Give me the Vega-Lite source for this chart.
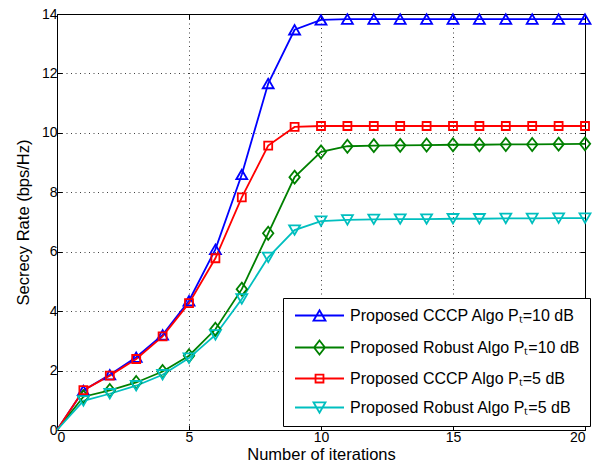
{
  "$schema": "https://vega.github.io/schema/vega-lite/v6.json",
  "width": 528,
  "height": 416,
  "autosize": {"type": "none"},
  "padding": {"left": 57, "top": 14, "right": 8, "bottom": 42},
  "background": "white",
  "datasets": {
    "rates": [
      {"series": "Proposed CCCP Algo Pₜ=10 dB", "x": 0, "y": 0},
      {"series": "Proposed CCCP Algo Pₜ=10 dB", "x": 1, "y": 1.33},
      {"series": "Proposed CCCP Algo Pₜ=10 dB", "x": 2, "y": 1.86},
      {"series": "Proposed CCCP Algo Pₜ=10 dB", "x": 3, "y": 2.45},
      {"series": "Proposed CCCP Algo Pₜ=10 dB", "x": 4, "y": 3.2},
      {"series": "Proposed CCCP Algo Pₜ=10 dB", "x": 5, "y": 4.35},
      {"series": "Proposed CCCP Algo Pₜ=10 dB", "x": 6, "y": 6.08},
      {"series": "Proposed CCCP Algo Pₜ=10 dB", "x": 7, "y": 8.6},
      {"series": "Proposed CCCP Algo Pₜ=10 dB", "x": 8, "y": 11.66},
      {"series": "Proposed CCCP Algo Pₜ=10 dB", "x": 9, "y": 13.47},
      {"series": "Proposed CCCP Algo Pₜ=10 dB", "x": 10, "y": 13.8},
      {"series": "Proposed CCCP Algo Pₜ=10 dB", "x": 11, "y": 13.83},
      {"series": "Proposed CCCP Algo Pₜ=10 dB", "x": 12, "y": 13.83},
      {"series": "Proposed CCCP Algo Pₜ=10 dB", "x": 13, "y": 13.83},
      {"series": "Proposed CCCP Algo Pₜ=10 dB", "x": 14, "y": 13.83},
      {"series": "Proposed CCCP Algo Pₜ=10 dB", "x": 15, "y": 13.83},
      {"series": "Proposed CCCP Algo Pₜ=10 dB", "x": 16, "y": 13.83},
      {"series": "Proposed CCCP Algo Pₜ=10 dB", "x": 17, "y": 13.83},
      {"series": "Proposed CCCP Algo Pₜ=10 dB", "x": 18, "y": 13.83},
      {"series": "Proposed CCCP Algo Pₜ=10 dB", "x": 19, "y": 13.83},
      {"series": "Proposed CCCP Algo Pₜ=10 dB", "x": 20, "y": 13.83},
      {"series": "Proposed Robust Algo Pₜ=10 dB", "x": 0, "y": 0},
      {"series": "Proposed Robust Algo Pₜ=10 dB", "x": 1, "y": 1.12},
      {"series": "Proposed Robust Algo Pₜ=10 dB", "x": 2, "y": 1.33},
      {"series": "Proposed Robust Algo Pₜ=10 dB", "x": 3, "y": 1.6},
      {"series": "Proposed Robust Algo Pₜ=10 dB", "x": 4, "y": 1.97},
      {"series": "Proposed Robust Algo Pₜ=10 dB", "x": 5, "y": 2.5},
      {"series": "Proposed Robust Algo Pₜ=10 dB", "x": 6, "y": 3.39},
      {"series": "Proposed Robust Algo Pₜ=10 dB", "x": 7, "y": 4.74},
      {"series": "Proposed Robust Algo Pₜ=10 dB", "x": 8, "y": 6.62},
      {"series": "Proposed Robust Algo Pₜ=10 dB", "x": 9, "y": 8.51},
      {"series": "Proposed Robust Algo Pₜ=10 dB", "x": 10, "y": 9.36},
      {"series": "Proposed Robust Algo Pₜ=10 dB", "x": 11, "y": 9.55},
      {"series": "Proposed Robust Algo Pₜ=10 dB", "x": 12, "y": 9.57},
      {"series": "Proposed Robust Algo Pₜ=10 dB", "x": 13, "y": 9.58},
      {"series": "Proposed Robust Algo Pₜ=10 dB", "x": 14, "y": 9.59},
      {"series": "Proposed Robust Algo Pₜ=10 dB", "x": 15, "y": 9.6},
      {"series": "Proposed Robust Algo Pₜ=10 dB", "x": 16, "y": 9.6},
      {"series": "Proposed Robust Algo Pₜ=10 dB", "x": 17, "y": 9.61},
      {"series": "Proposed Robust Algo Pₜ=10 dB", "x": 18, "y": 9.61},
      {"series": "Proposed Robust Algo Pₜ=10 dB", "x": 19, "y": 9.62},
      {"series": "Proposed Robust Algo Pₜ=10 dB", "x": 20, "y": 9.63},
      {"series": "Proposed CCCP Algo Pₜ=5 dB", "x": 0, "y": 0},
      {"series": "Proposed CCCP Algo Pₜ=5 dB", "x": 1, "y": 1.34},
      {"series": "Proposed CCCP Algo Pₜ=5 dB", "x": 2, "y": 1.83},
      {"series": "Proposed CCCP Algo Pₜ=5 dB", "x": 3, "y": 2.39},
      {"series": "Proposed CCCP Algo Pₜ=5 dB", "x": 4, "y": 3.15},
      {"series": "Proposed CCCP Algo Pₜ=5 dB", "x": 5, "y": 4.27},
      {"series": "Proposed CCCP Algo Pₜ=5 dB", "x": 6, "y": 5.78},
      {"series": "Proposed CCCP Algo Pₜ=5 dB", "x": 7, "y": 7.83},
      {"series": "Proposed CCCP Algo Pₜ=5 dB", "x": 8, "y": 9.57},
      {"series": "Proposed CCCP Algo Pₜ=5 dB", "x": 9, "y": 10.2},
      {"series": "Proposed CCCP Algo Pₜ=5 dB", "x": 10, "y": 10.23},
      {"series": "Proposed CCCP Algo Pₜ=5 dB", "x": 11, "y": 10.23},
      {"series": "Proposed CCCP Algo Pₜ=5 dB", "x": 12, "y": 10.23},
      {"series": "Proposed CCCP Algo Pₜ=5 dB", "x": 13, "y": 10.23},
      {"series": "Proposed CCCP Algo Pₜ=5 dB", "x": 14, "y": 10.23},
      {"series": "Proposed CCCP Algo Pₜ=5 dB", "x": 15, "y": 10.23},
      {"series": "Proposed CCCP Algo Pₜ=5 dB", "x": 16, "y": 10.23},
      {"series": "Proposed CCCP Algo Pₜ=5 dB", "x": 17, "y": 10.23},
      {"series": "Proposed CCCP Algo Pₜ=5 dB", "x": 18, "y": 10.23},
      {"series": "Proposed CCCP Algo Pₜ=5 dB", "x": 19, "y": 10.23},
      {"series": "Proposed CCCP Algo Pₜ=5 dB", "x": 20, "y": 10.23},
      {"series": "Proposed Robust Algo Pₜ=5 dB", "x": 0, "y": 0},
      {"series": "Proposed Robust Algo Pₜ=5 dB", "x": 1, "y": 0.98},
      {"series": "Proposed Robust Algo Pₜ=5 dB", "x": 2, "y": 1.22},
      {"series": "Proposed Robust Algo Pₜ=5 dB", "x": 3, "y": 1.49},
      {"series": "Proposed Robust Algo Pₜ=5 dB", "x": 4, "y": 1.86},
      {"series": "Proposed Robust Algo Pₜ=5 dB", "x": 5, "y": 2.42},
      {"series": "Proposed Robust Algo Pₜ=5 dB", "x": 6, "y": 3.2},
      {"series": "Proposed Robust Algo Pₜ=5 dB", "x": 7, "y": 4.41},
      {"series": "Proposed Robust Algo Pₜ=5 dB", "x": 8, "y": 5.81},
      {"series": "Proposed Robust Algo Pₜ=5 dB", "x": 9, "y": 6.73},
      {"series": "Proposed Robust Algo Pₜ=5 dB", "x": 10, "y": 7.03},
      {"series": "Proposed Robust Algo Pₜ=5 dB", "x": 11, "y": 7.07},
      {"series": "Proposed Robust Algo Pₜ=5 dB", "x": 12, "y": 7.09},
      {"series": "Proposed Robust Algo Pₜ=5 dB", "x": 13, "y": 7.1},
      {"series": "Proposed Robust Algo Pₜ=5 dB", "x": 14, "y": 7.1},
      {"series": "Proposed Robust Algo Pₜ=5 dB", "x": 15, "y": 7.11},
      {"series": "Proposed Robust Algo Pₜ=5 dB", "x": 16, "y": 7.11},
      {"series": "Proposed Robust Algo Pₜ=5 dB", "x": 17, "y": 7.12},
      {"series": "Proposed Robust Algo Pₜ=5 dB", "x": 18, "y": 7.12},
      {"series": "Proposed Robust Algo Pₜ=5 dB", "x": 19, "y": 7.13},
      {"series": "Proposed Robust Algo Pₜ=5 dB", "x": 20, "y": 7.13}
    ]
  },
  "data": {"name": "rates"},
  "resolve": {"axis": {"x": "independent", "y": "independent"}},
  "layer": [
    {
      "mark": {"type": "line", "strokeWidth": 1.8},
      "encoding": {
        "x": {
          "field": "x", "type": "quantitative",
          "scale": {"domain": [0, 20], "nice": false},
          "axis": {
            "title": "Number of iterations", "values": [0, 5, 10, 15, 20],
            "orient": "bottom", "grid": true, "tickSize": -5, "labelPadding": 5,
            "titlePadding": 2
          }
        },
        "y": {
          "field": "y", "type": "quantitative",
          "scale": {"domain": [0, 14], "nice": false},
          "axis": {
            "title": "Secrecy Rate (bps/Hz)", "values": [0, 2, 4, 6, 8, 10, 12, 14],
            "orient": "left", "grid": true, "tickSize": -5, "labelPadding": 5,
            "titlePadding": 10
          }
        },
        "color": {
          "field": "series", "type": "nominal",
          "scale": {
            "domain": ["Proposed CCCP Algo Pₜ=10 dB", "Proposed Robust Algo Pₜ=10 dB", "Proposed CCCP Algo Pₜ=5 dB", "Proposed Robust Algo Pₜ=5 dB"],
            "range": ["#0000ff", "#008000", "#ff0000", "#00bfbf"]
          },
          "legend": {
            "title": null,
            "orient": "none",
            "legendX": 226,
            "legendY": 284,
            "symbolSize": 225,
            "encode": {
              "symbols": {
                "update": {
                  "shape": {"signal": "datum.index === 0 ? 'M-0.733,0L5.8,0M2.533,-0.69L3.333,0.69L1.733,0.69Z' : datum.index === 1 ? 'M-0.733,0L5.8,0M2.533,-0.93L3.263,0L2.533,0.93L1.803,0Z' : datum.index === 2 ? 'M-0.733,0L5.8,0M2.003,-0.53L3.063,-0.53L3.063,0.53L2.003,0.53Z' : 'M-0.733,0L5.8,0M2.533,0.69L3.333,-0.69L1.733,-0.69Z'"},
                  "size": {"value": 225},
                  "fill": {"value": "transparent"}
                }
              }
            }
          }
        }
      }
    },
    {
      "transform": [{"filter": "datum.series === 'Proposed CCCP Algo Pₜ=10 dB'"}, {"filter": "datum.x > 0"}],
      "mark": {"type": "point", "filled": false, "strokeWidth": 1.8, "opacity": 1, "shape": "triangle-up", "size": 120, "color": "#0000ff"},
      "encoding": {
        "x": {
          "field": "x", "type": "quantitative",
          "axis": {"orient": "top", "values": [0, 5, 10, 15, 20], "labels": false, "title": null, "grid": false, "tickSize": -5}
        },
        "y": {
          "field": "y", "type": "quantitative",
          "axis": {"orient": "right", "values": [0, 2, 4, 6, 8, 10, 12, 14], "labels": false, "title": null, "grid": false, "tickSize": -5}
        }
      }
    },
    {
      "transform": [{"filter": "datum.series === 'Proposed Robust Algo Pₜ=10 dB'"}, {"filter": "datum.x > 0"}],
      "mark": {"type": "point", "filled": false, "strokeWidth": 1.8, "opacity": 1, "shape": "M0,-1L0.8,0L0,1L-0.8,0Z", "size": 169, "color": "#008000"},
      "encoding": {
        "x": {"field": "x", "type": "quantitative", "axis": null},
        "y": {"field": "y", "type": "quantitative", "axis": null}
      }
    },
    {
      "transform": [{"filter": "datum.series === 'Proposed CCCP Algo Pₜ=5 dB'"}, {"filter": "datum.x > 0"}],
      "mark": {"type": "point", "filled": false, "strokeWidth": 1.8, "opacity": 1, "shape": "square", "size": 64, "color": "#ff0000"},
      "encoding": {
        "x": {"field": "x", "type": "quantitative", "axis": null},
        "y": {"field": "y", "type": "quantitative", "axis": null}
      }
    },
    {
      "transform": [{"filter": "datum.series === 'Proposed Robust Algo Pₜ=5 dB'"}, {"filter": "datum.x > 0"}],
      "mark": {"type": "point", "filled": false, "strokeWidth": 1.8, "opacity": 1, "shape": "triangle-down", "size": 120, "color": "#00bfbf"},
      "encoding": {
        "x": {"field": "x", "type": "quantitative", "axis": null},
        "y": {"field": "y", "type": "quantitative", "axis": null}
      }
    }
  ],
  "config": {
    "font": "Liberation Sans",
    "view": {"stroke": "black", "strokeWidth": 1},
    "axis": {
      "domain": false,
      "ticks": true,
      "tickColor": "black",
      "tickWidth": 1,
      "gridColor": "black",
      "gridOpacity": 0.75,
      "gridDash": [1, 3.5],
      "gridWidth": 1,
      "labelFont": "Liberation Sans",
      "labelFontSize": 14,
      "labelColor": "black",
      "titleFont": "Liberation Sans",
      "titleFontSize": 16.5,
      "titleFontWeight": "normal",
      "titleColor": "black"
    },
    "legend": {
      "padding": 9,
      "strokeColor": "black",
      "fillColor": "white",
      "labelFont": "Liberation Sans",
      "labelFontSize": 16,
      "labelColor": "black",
      "labelLimit": 400,
      "symbolSize": 225,
      "symbolStrokeWidth": 1.8,
      "symbolOffset": 0,
      "labelOffset": 41,
      "rowPadding": 11
    }
  }
}
